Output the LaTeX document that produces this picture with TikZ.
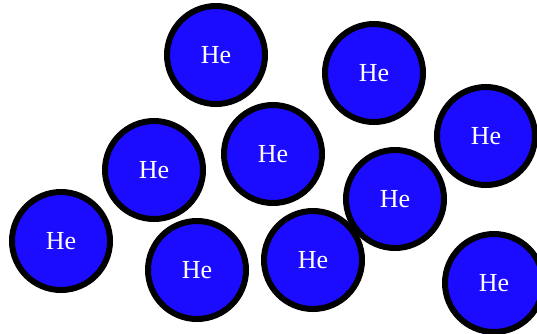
\documentclass[tikz,border=0pt]{standalone}
\usepackage{fontspec}
\setmainfont{Liberation Serif}
\definecolor{heblue}{RGB}{28,12,255}
\begin{document}
\begin{tikzpicture}[x=1pt,y=-1pt,
  atom/.style={circle,draw=black,fill=heblue,line width=6pt,minimum size=98pt,inner sep=0pt,
    text=white,font=\fontsize{26}{26}\selectfont}]
\useasboundingbox (0,0) rectangle (537,333);
\clip (0,0) rectangle (537,333);
\node[atom] (a1) at (216,55) {He};
\node[atom] (a2) at (374,73) {He};
\node[atom] (a3) at (486,136) {He};
\node[atom] (a4) at (154,170) {He};
\node[atom] (a5) at (273,154) {He};
\node[atom] (a6) at (395,199) {He};
\node[atom] (a7) at (61,241) {He};
\node[atom] (a8) at (197,270) {He};
\node[atom] (a9) at (313,260) {He};
\node[atom] (a10) at (494,283) {He};
\end{tikzpicture}
\end{document}
